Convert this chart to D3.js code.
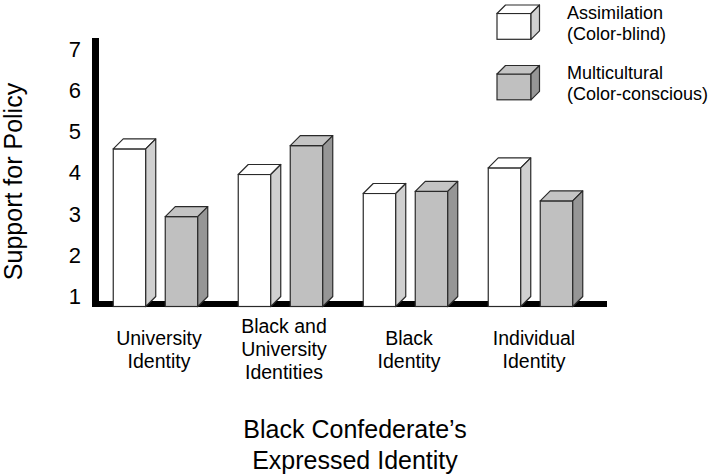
<!DOCTYPE html>
<html>
<head>
<meta charset="utf-8">
<script src="https://cdn.jsdelivr.net/npm/d3@7"></script>
<style>
  html, body { margin: 0; padding: 0; background: #fff; }
  svg { display: block; font-family: "Liberation Sans", Arial, sans-serif; }
</style>
</head>
<body>
<svg id="chart" width="722" height="475"></svg>
<script>
// ---- data ----
const categories = ["University Identity", "Black and University Identities", "Black Identity", "Individual Identity"];
const categoryLines = [["University", "Identity"], ["Black and", "University", "Identities"], ["Black", "Identity"], ["Individual", "Identity"]];
const seriesNames = ["Assimilation", "Multicultural"];
const seriesLines = [["Assimilation", "(Color-blind)"], ["Multicultural", "(Color-conscious)"]];
const assimilation = [4.82, 4.20, 3.74, 4.36];
const multicultural = [3.18, 4.90, 3.79, 3.56];
const yTicks = [1, 2, 3, 4, 5, 6, 7];
const yTitle = "Support for Policy";
const xTitleLines = ["Black Confederate\u2019s", "Expressed Identity"];

// ---- styles ----
const fills = {
  Assimilation: { front: "#ffffff", top: "#ffffff", side: "#d0d0d0" },
  Multicultural: { front: "#c0c0c0", top: "#c4c4c4", side: "#969696" }
};
const stroke = "#2a2a2a";
const depth = 10;

const svg = d3.select("#chart");

// scales
const x0 = d3.scaleBand().domain(categories).range([98, 598]).paddingInner(0.244).paddingOuter(0.122);
const x1 = d3.scaleBand().domain(seriesNames).range([0, 84.5]).paddingInner(0.375).paddingOuter(0);
const yFront = d3.scaleLinear().domain([1, 7]).range([306.5, 59]);
const yBack = d3.scaleLinear().domain([1, 7]).range([306.5 - depth, 59 - depth]);

// walls
const base = yFront(1);
svg.append("rect").attr("x", 92).attr("y", base - 5.5).attr("width", 515).attr("height", 6).attr("fill", "#000");
svg.append("rect").attr("x", 92).attr("y", 38).attr("width", 7).attr("height", base + 0.5 - 38).attr("fill", "#000");

// y axis ticks
const yAxis = svg.append("g").attr("transform", "translate(87,0)")
  .call(d3.axisLeft(yBack).tickValues(yTicks).tickFormat(d3.format("d")).tickSize(0).tickPadding(6));
yAxis.select(".domain").remove();
yAxis.selectAll("text").attr("font-size", 22).attr("fill", "#000")
  .attr("font-family", "'Liberation Sans', Arial, sans-serif");

// bars
const rows = categories.map((c, i) => ({ cat: c, values: [
  { s: "Assimilation", v: assimilation[i] },
  { s: "Multicultural", v: multicultural[i] }
]}));

function drawBox(g, x, yt, yb, w, f, d) {
  g.append("rect").attr("x", x).attr("y", yt).attr("width", w).attr("height", yb - yt)
    .attr("fill", f.front).attr("stroke", stroke).attr("stroke-width", 1.2);
  g.append("path").attr("d", `M${x},${yt}L${x + d},${yt - d}L${x + w + d},${yt - d}L${x + w},${yt}Z`)
    .attr("fill", f.top).attr("stroke", stroke).attr("stroke-width", 1.2).attr("stroke-linejoin", "round");
  g.append("path").attr("d", `M${x + w},${yt}L${x + w + d},${yt - d}L${x + w + d},${yb - d}L${x + w},${yb}Z`)
    .attr("fill", f.side).attr("stroke", stroke).attr("stroke-width", 1.2).attr("stroke-linejoin", "round");
}

const groups = svg.selectAll("g.grp").data(rows).join("g").attr("class", "grp")
  .attr("transform", d => `translate(${x0(d.cat)},0)`);
groups.each(function(d) {
  const g = d3.select(this);
  d.values.forEach(b => {
    drawBox(g, x1(b.s), yFront(b.v), yFront(1), x1.bandwidth(), fills[b.s], depth);
  });
});

// category labels
const lineH = 23;
categories.forEach((c, i) => {
  const lines = categoryLines[i];
  const cx = x0(c) + x0.bandwidth() / 2 - 1.5;
  const midBaseline = 356;
  const t = svg.append("text").attr("text-anchor", "middle").attr("font-size", 19.5).attr("fill", "#000");
  lines.forEach((ln, k) => {
    t.append("tspan").attr("x", cx).attr("y", midBaseline + (k - (lines.length - 1) / 2) * lineH).text(ln);
  });
});

// y title
svg.append("text").attr("transform", `translate(22,${181.5}) rotate(-90)`)
  .attr("text-anchor", "middle").attr("font-size", 25).attr("fill", "#000").text(yTitle);

// x title
const xt = svg.append("text").attr("text-anchor", "middle").attr("font-size", 25).attr("fill", "#000");
xTitleLines.forEach((ln, k) => xt.append("tspan").attr("x", 355).attr("y", 438 + k * 31).text(ln));

// legend
const legendY = [13.5, 74];
seriesNames.forEach((s, i) => {
  const g = svg.append("g");
  drawBox(g, 497, legendY[i], legendY[i] + 25.8, 34, fills[s], 8.5);
  const t = svg.append("text").attr("font-size", 18).attr("fill", "#000");
  seriesLines[i].forEach((ln, k) => t.append("tspan").attr("x", 567).attr("y", legendY[i] + 5 + k * 21).text(ln));
});
</script>
</body>
</html>
